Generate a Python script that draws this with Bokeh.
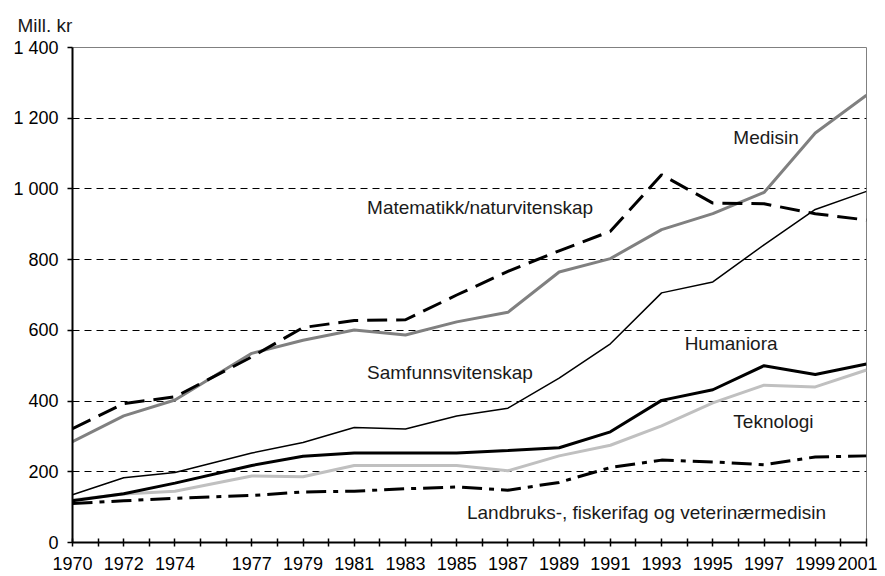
from bokeh.plotting import figure
from bokeh.models import Range1d, FixedTicker, Label
from bokeh.embed import file_html
from bokeh.resources import INLINE

years = [1970, 1972, 1974, 1977, 1979, 1981, 1983, 1985, 1987, 1989, 1991, 1993, 1995, 1997, 1999, 2001]

medisin = [285, 358, 403, 535, 572, 601, 587, 624, 651, 765, 803, 885, 930, 990, 1158, 1265]
matnat = [322, 393, 412, 525, 608, 628, 630, 700, 767, 825, 880, 1040, 960, 958, 930, 912]
samfunn = [135, 183, 198, 253, 283, 325, 321, 358, 380, 465, 562, 706, 737, 842, 942, 993]
humaniora = [118, 138, 168, 218, 244, 253, 253, 253, 260, 268, 313, 402, 432, 500, 475, 505]
teknologi = [120, 137, 145, 188, 186, 218, 218, 218, 203, 245, 275, 330, 395, 445, 440, 488]
landbruk = [110, 118, 125, 133, 143, 145, 152, 157, 148, 170, 212, 233, 228, 220, 242, 245]

y_ticks = [0, 200, 400, 600, 800, 1000, 1200, 1400]
y_tick_labels = ["0", "200", "400", "600", "800", "1 000", "1 200", "1 400"]
all_years = list(range(1970, 2002))

series_labels = [
    ("Medisin", 1995.8, 1145),
    ("Matematikk/naturvitenskap", 1981.5, 947),
    ("Samfunnsvitenskap", 1981.5, 481),
    ("Humaniora", 1993.9, 563),
    ("Teknologi", 1995.8, 342),
    ("Landbruks-, fiskerifag og veterinærmedisin", 1985.4, 85),
]

FONT = "Liberation Sans"

p = figure(width=877, height=576, output_backend="svg", toolbar_location=None,
           x_range=Range1d(1970, 2001), y_range=Range1d(0, 1400))
p.min_border = 0
p.min_border_left = 72
p.min_border_right = 11
p.min_border_top = 47
p.min_border_bottom = 34
p.outline_line_color = "#808080"
p.outline_line_width = 1
p.background_fill_color = "white"
p.border_fill_color = "white"

p.title.text = "Mill. kr"
p.title.align = "left"
p.title.offset = -55
p.title.standoff = 19
p.title.vertical_align = "top"
p.title.text_font = FONT
p.title.text_font_size = "19px"
p.title.text_font_style = "normal"
p.title.text_color = "#1a1a1a"

# grid
p.xgrid.visible = False
p.ygrid.ticker = FixedTicker(ticks=y_ticks[1:])
p.ygrid.grid_line_color = "black"
p.ygrid.grid_line_width = 1
p.ygrid.grid_line_dash = "7 5"

# axes
xa = p.xaxis[0]
xa.ticker = FixedTicker(ticks=all_years)
xa.major_label_overrides = {y: (str(y) if y in years else "") for y in all_years}
xa.minor_tick_line_color = None
xa.major_tick_in = 4
xa.major_tick_out = 4
xa.major_tick_line_width = 1.5
xa.axis_line_width = 2
xa.major_label_standoff = 10
xa.major_label_text_font = FONT
xa.major_label_text_font_size = "18px"
xa.major_label_text_color = "black"

ya = p.yaxis[0]
ya.ticker = FixedTicker(ticks=y_ticks)
ya.major_label_overrides = {t: l for t, l in zip(y_ticks, y_tick_labels)}
ya.minor_tick_line_color = None
ya.major_tick_in = 0
ya.major_tick_out = 5
ya.major_tick_line_width = 1.5
ya.axis_line_width = 2
ya.major_label_standoff = 9
ya.major_label_text_font = FONT
ya.major_label_text_font_size = "18px"
ya.major_label_text_color = "black"

# lines
p.line(years, medisin, line_color="#808080", line_width=3)
p.line(years, matnat, line_color="black", line_width=3, line_dash="20 9")
p.line(years, samfunn, line_color="black", line_width=1.5)
p.line(years, teknologi, line_color="#c0c0c0", line_width=3)
p.line(years, humaniora, line_color="black", line_width=3)
p.line(years, landbruk, line_color="black", line_width=3, line_dash="20 7 5 7")

for text, x, y in series_labels:
    p.add_layout(Label(x=x, y=y, text=text, text_font=FONT, text_font_size="19px",
                       text_color="#1a1a1a", text_align="left", text_baseline="middle"))

open("out.html", "w").write(file_html(p, INLINE))
